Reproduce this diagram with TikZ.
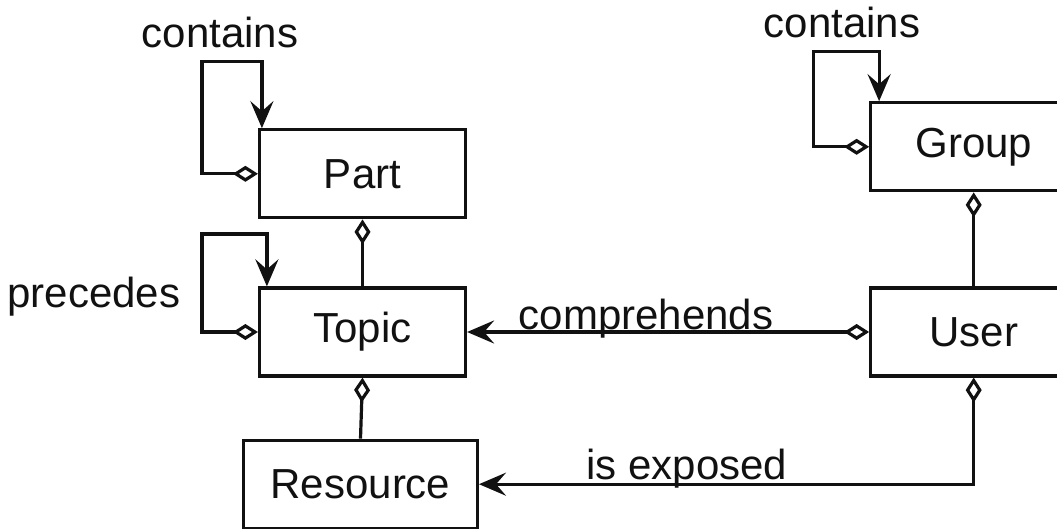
\documentclass[tikz,border=0pt]{standalone}
\usepackage{fontspec}
\setmainfont{Liberation Sans}
\usetikzlibrary{arrows.meta, positioning}
\definecolor{umlInk}{HTML}{111111}
\begin{document}
\begin{tikzpicture}[x=1pt, y=-1pt, font=\fontsize{42}{50}\selectfont,
        cls/.style={draw=umlInk, line width=3.2pt, fill=white, text=umlInk, minimum width=206pt, minimum height=88pt, inner xsep=27pt},
        agg/.style={{Diamond[open, length=25pt, width=16pt]}-, umlInk, line width=3.2pt},
        nav/.style={{Diamond[open, length=25pt, width=16pt]}-{Stealth[length=27pt, width=23pt, inset=10pt]}, umlInk, line width=3.2pt},
        lbl/.style={text=umlInk, inner sep=0pt}]
        \useasboundingbox (0,0) rectangle (1057,529);
        \clip (0,0) rectangle (1057,529);
        \node[cls] (topic) at (362.5,332) {Topic};
        \node[cls, above=67pt of topic] (part) {Part};
        \node[cls, below=61pt of topic, xshift=-2pt] (res) {Resource};
        \node[cls, right=402pt of topic] (user) {User};
        \node[cls, above=94pt of user] (group) {Group};
        % self loops
        \draw[nav] (part.west) -- ++(-56,0) -- ++(0,-112) -| node[lbl, pos=0.15, above=12pt]{contains} ([xshift=4pt]part.north west);
        \draw[nav] (topic.west) -- ++(-56,0) -- node[lbl, pos=0.36, left=20pt]{precedes} ++(0,-98) -| ([xshift=9pt]topic.north west);
        \draw[nav] (group.west) -- ++(-56,0) -- ++(0,-95) -| node[lbl, pos=0.22, above=12pt]{contains} ([xshift=10pt]group.north west);
        \draw[agg] (part.south) -- (topic.north);
        \draw[agg] (topic.south) -- (res.north);
        \draw[agg] (group.south) -- (user.north);
        \draw[nav] (user.west) -- node[lbl, pos=0.555, anchor=base, yshift=3pt]{comprehends} (topic.east);
        \draw[nav] (user.south) |- node[lbl, pos=0.79, anchor=base, yshift=5pt]{is exposed} (res.east);
      \end{tikzpicture}
\end{document}
